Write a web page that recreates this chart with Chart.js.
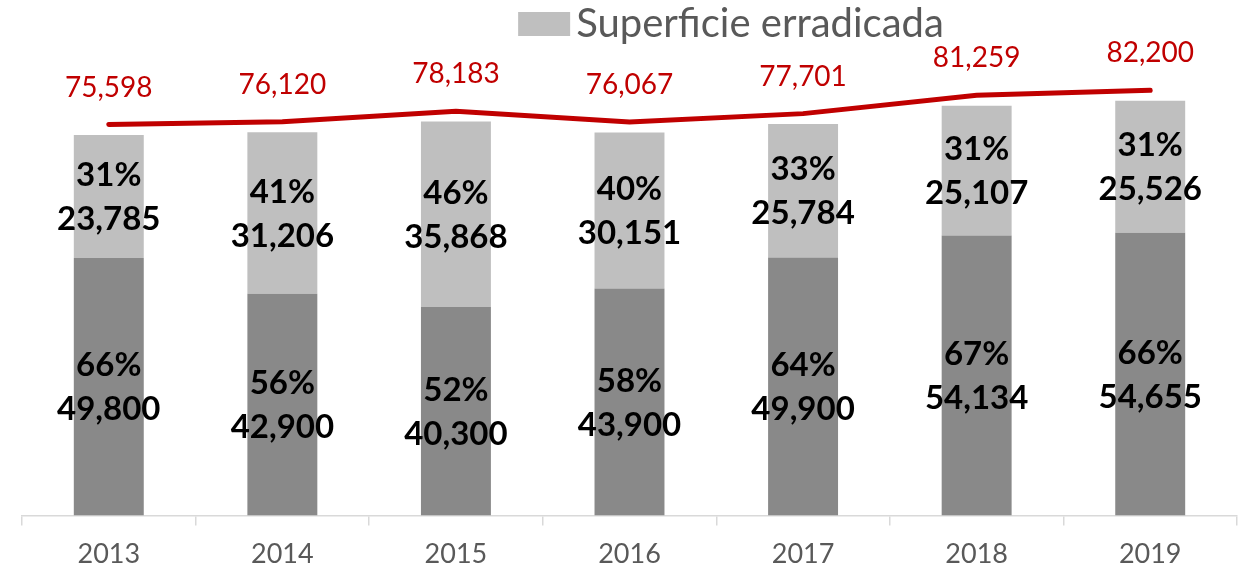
<!DOCTYPE html>
<html>
<head>
<meta charset="utf-8">
<script src="https://cdn.jsdelivr.net/npm/chart.js@4.4.0/dist/chart.umd.min.js"></script>
<style>
  html, body { margin: 0; padding: 0; background: #fff; }
  #wrap { width: 1251px; height: 569px; }
</style>
</head>
<body>
<div id="wrap"><canvas id="myChart"></canvas></div>
<script>
const years = ["2013", "2014", "2015", "2016", "2017", "2018", "2019"];
const bottomValues = [49800, 42900, 40300, 43900, 49900, 54134, 54655];
const topValues = [23785, 31206, 35868, 30151, 25784, 25107, 25526];
const lineValues = [75598, 76120, 78183, 76067, 77701, 81259, 82200];
const bottomPct = [66, 56, 52, 58, 64, 67, 66];
const topPct = [31, 41, 46, 40, 33, 31, 31];
const legendLabel = "Superficie erradicada";

const fmt = v => v.toLocaleString("en-US");
const FONT = "Lato, 'Noto Sans', sans-serif";

// labels inside bars and above the red line
const labelPlugin = {
  id: "labels",
  afterDatasetsDraw(chart) {
    const ctx = chart.ctx;
    ctx.save();
    ctx.textAlign = "center";
    ctx.textBaseline = "middle";

    const pcts = [bottomPct, topPct];
    [0, 1].forEach(di => {
      const meta = chart.getDatasetMeta(di);
      const vals = chart.data.datasets[di].data;
      meta.data.forEach((bar, i) => {
        const cy = (bar.y + bar.base) / 2;
        ctx.fillStyle = "#000";
        ctx.font = "bold 33px " + FONT;
        ctx.fillText(pcts[di][i] + "%", bar.x, cy - 21);
        ctx.fillText(fmt(vals[i]), bar.x, cy + 23);
      });
    });

    const lm = chart.getDatasetMeta(2);
    ctx.fillStyle = "#C00000";
    ctx.font = "28px " + FONT;
    lm.data.forEach((pt, i) => {
      ctx.fillText(fmt(lineValues[i]), pt.x, pt.y - 37);
    });

    // legend (only the light series is shown)
    ctx.font = "40px " + FONT;
    const tw = ctx.measureText(legendLabel).width;
    const total = 52 + 6 + tw;
    const x0 = 731 - total / 2;
    ctx.fillStyle = "#BFBFBF";
    ctx.fillRect(x0, 12, 52, 24);
    ctx.fillStyle = "#595959";
    ctx.textAlign = "left";
    ctx.fillText(legendLabel, x0 + 58, 24);
    ctx.restore();
  }
};

const config = {
  data: {
    labels: years,
    datasets: [
      {
        type: "bar",
        label: "Base",
        data: bottomValues,
        backgroundColor: "#898989",
        stack: "bars",
        order: 1,
        barPercentage: 0.403,
        categoryPercentage: 1
      },
      {
        type: "bar",
        label: legendLabel,
        data: topValues,
        backgroundColor: "#BFBFBF",
        stack: "bars",
        order: 2,
        barPercentage: 0.403,
        categoryPercentage: 1
      },
      {
        type: "line",
        label: "Total",
        data: lineValues,
        borderColor: "#C00000",
        borderWidth: 5,
        borderCapStyle: "round",
        pointRadius: 0,
        tension: 0,
        fill: false,
        stack: "line",
        order: 0
      }
    ]
  },
  options: {
    responsive: true,
    maintainAspectRatio: false,
    animation: false,
    layout: { padding: { top: 50, left: 22, right: 14, bottom: -13 } },
    plugins: {
      legend: { display: false },
      tooltip: { enabled: false }
    },
    scales: {
      x: {
        stacked: true,
        offset: true,
        grid: {
          display: true,
          offset: true,
          drawOnChartArea: false,
          tickLength: 10,
          color: "#D9D9D9",
          lineWidth: 1.5
        },
        border: { color: "#D9D9D9", width: 1.5 },
        ticks: {
          color: "#595959",
          font: { family: FONT, size: 27 },
          padding: 12
        }
      },
      y: {
        display: false,
        stacked: true,
        min: 0,
        max: 90000
      }
    }
  },
  plugins: [labelPlugin]
};

new Chart(document.getElementById("myChart"), config);
</script>
</body>
</html>
